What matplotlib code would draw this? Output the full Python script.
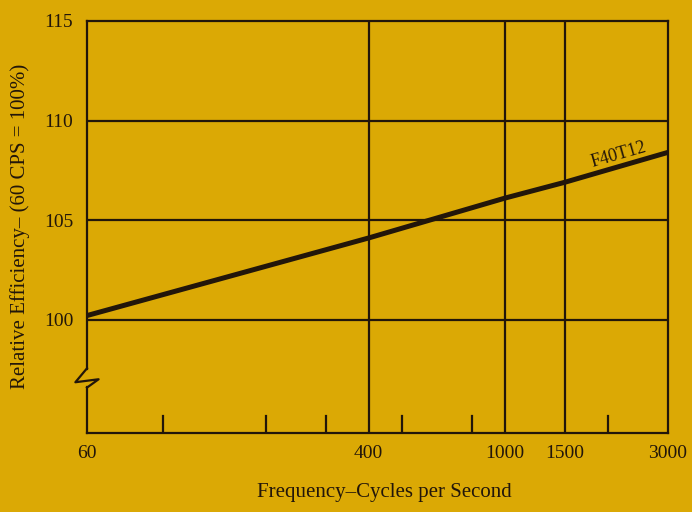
import numpy as np
import matplotlib.pyplot as plt

# data
freq = [60, 400, 1000, 1500, 3000]
efficiency = [100.2, 104.1, 106.1, 106.9, 108.4]

xtick_vals = [60, 400, 1000, 1500, 3000]
xtick_labels = ['60', '400', '1000', '1500', '3000']
xgrid_vals = [400, 1000, 1500]
minor_vals = [100, 200, 300, 500, 800, 2000]
ytick_vals = [100, 105, 110, 115]

bg = '#DBA905'
ink = '#22160a'
plt.rcParams['font.family'] = ['Liberation Serif', 'DejaVu Serif']

fig = plt.figure(figsize=(6.92, 5.12), dpi=100, facecolor=bg)
ax = fig.add_axes([0.1257, 0.1543, 0.8396, 0.8047], facecolor=bg)

ax.set_xscale('log')
ax.set_xlim(60, 3000)
ax.set_ylim(94.3, 115)

# grid
for y in [100, 105, 110]:
    ax.axhline(y, color=ink, lw=1.6, zorder=1)
for x in xgrid_vals:
    ax.axvline(x, color=ink, lw=1.6, zorder=1)

# short ticks along the bottom
for x in minor_vals:
    ax.plot([x, x], [94.3, 95.15], color=ink, lw=1.6, zorder=1)

ax.plot(freq, efficiency, color=ink, lw=3.6, solid_capstyle='butt', zorder=3)

ax.text(2150, 108.3, 'F40T12', rotation=16, fontsize=13, color=ink,
        ha='center', va='center')

ax.set_xticks(xtick_vals)
ax.set_xticklabels(xtick_labels)
ax.xaxis.set_minor_locator(plt.NullLocator())
ax.set_yticks(ytick_vals)
ax.tick_params(length=0, labelsize=14, colors=ink)
ax.tick_params(axis='x', pad=9)
ax.tick_params(axis='y', pad=10)

for s in ['top', 'right', 'bottom']:
    ax.spines[s].set_color(ink)
    ax.spines[s].set_linewidth(1.6)
ax.spines['left'].set_visible(False)

# left spine with a break mark
trans = ax.get_yaxis_transform()
ax.plot([0, 0], [115, 97.5], color=ink, lw=1.6, transform=trans, clip_on=False)
ax.plot([0, 0], [96.6, 94.3], color=ink, lw=1.6, transform=trans, clip_on=False)
zx = np.array([0, -0.02, 0.02, 0])
zy = np.array([97.55, 96.85, 97.0, 96.58])
ax.plot(zx, zy, color=ink, lw=1.6, transform=trans, clip_on=False)

fig.text(0.556, 0.039, 'Frequency\u2013Cycles per Second', fontsize=15, color=ink,
         ha='center', va='center')
fig.text(0.029, 0.5586, 'Relative Efficiency\u2013 (60 CPS = 100%)', fontsize=15,
         color=ink, ha='center', va='center', rotation=90)

fig.savefig('out.png', dpi=100, facecolor=bg)
